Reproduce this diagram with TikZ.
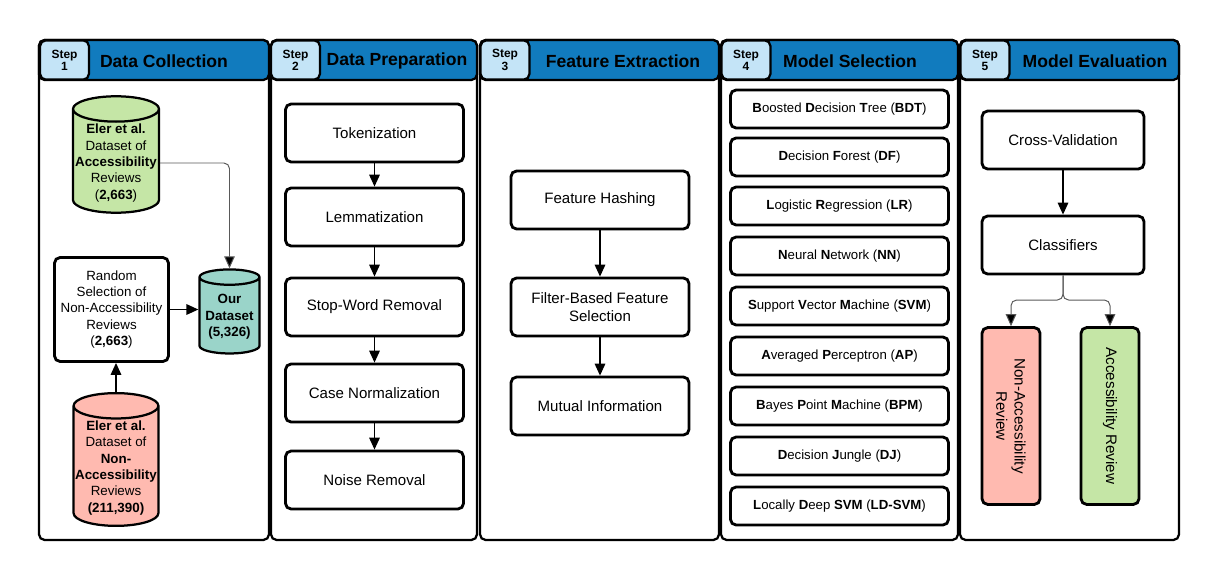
\documentclass[tikz,border=0pt]{standalone}
\usepackage{fontspec}
\setmainfont{Liberation Sans}
\usetikzlibrary{shapes.geometric,arrows.meta,positioning}
\definecolor{headblue}{HTML}{117BBE}
\definecolor{steplight}{HTML}{C4E4F7}
\definecolor{accgreen}{HTML}{C5E6A6}
\definecolor{nonaccred}{HTML}{FFBAB0}
\definecolor{ourteal}{HTML}{9AD4C9}

\begin{document}
\begin{tikzpicture}[x=0.025cm,y=-0.025cm,
		panelframe/.style={draw=black,line width=1.6pt,rounded corners=4pt},
		headband/.style={draw=black,fill=headblue,line width=1.6pt,rounded corners=4pt},
		stepbox/.style={draw=black,fill=steplight,line width=1.6pt,rounded corners=4pt,minimum width=1.22cm,minimum height=0.98cm,align=center,inner sep=0pt,font=\fontsize{8.5}{7.5}\selectfont\bfseries},
		headtitle/.style={inner sep=0pt,font=\fontsize{12.5}{15}\selectfont\bfseries},
		procbox/.style={draw=black,fill=white,line width=2pt,rounded corners=4pt,minimum width=4.45cm,minimum height=1.45cm,align=center,font=\fontsize{10.7}{12.8}\selectfont},
		modelbox/.style={draw=black,fill=white,line width=2pt,rounded corners=4pt,minimum width=5.45cm,minimum height=0.95cm,align=center,font=\fontsize{9.4}{11}\selectfont},
		dbcyl/.style={cylinder,shape border rotate=90,draw=black,line width=1.6pt,aspect=0.3,inner sep=1pt,align=center,font=\fontsize{9.5}{11.6}\selectfont},
		classbox/.style={draw=black,line width=2pt,rounded corners=4pt,rotate=-90,minimum width=4.42cm,minimum height=1.45cm,align=center,font=\fontsize{10.8}{13}\selectfont},
		arrowline/.style={draw=black,line width=1pt,-{Triangle[length=8.5pt,width=7.5pt]}},
		thinarrow/.style={draw=black!65,line width=0.7pt,rounded corners=4pt,-{Triangle[length=8.5pt,width=7.5pt,fill=black]}}]
	\useasboundingbox (0,0) rectangle (1220,580);
	\draw[panelframe] (39,40) rectangle (269,540);
	\draw[panelframe] (271,40) rectangle (477,540);
	\draw[panelframe] (480,40) rectangle (719,540);
	\draw[panelframe] (721,40) rectangle (958,540);
	\draw[panelframe] (960,40) rectangle (1179,540);
	\draw[headband] (39,40) rectangle (269,80);
	\draw[headband] (271,40) rectangle (477,80);
	\draw[headband] (480,40) rectangle (719,80);
	\draw[headband] (721,40) rectangle (958,80);
	\draw[headband] (960,40) rectangle (1179,80);
	\node[stepbox] (step1) at (64.5,60) {Step\\1};
	\node[stepbox] (step2) at (295.5,60) {Step\\2};
	\node[stepbox] (step3) at (505,60) {Step\\3};
	\node[stepbox] (step4) at (746,60) {Step\\4};
	\node[stepbox] (step5) at (985,60) {Step\\5};
	\node[headtitle] (title1) at (164,61) {Data Collection};
	\node[headtitle] (title2) at (397,61) {Data Preparation};
	\node[headtitle] (title3) at (623,61) {Feature Extraction};
	\node[headtitle] (title4) at (850,61) {Model Selection};
	\node[headtitle] (title5) at (1095,61) {Model Evaluation};

	\node[dbcyl,fill=accgreen,minimum width=2.15cm,minimum height=2.75cm] (accdata) at (116,163) {\textbf{Eler et al.}\\Dataset of\\\textbf{Accessibility}\\Reviews\\(\textbf{2,663})};
	\node[dbcyl,fill=ourteal,minimum width=1.5cm,minimum height=2.1cm] (ourdata) at (229.5,317) {\textbf{Our}\\\textbf{Dataset}\\\textbf{(5,326)}};
	\node[dbcyl,fill=nonaccred,minimum width=2.12cm,minimum height=3.15cm] (nonaccdata) at (116,468) {\textbf{Eler et al.}\\Dataset of\\\textbf{Non-}\\\textbf{Accessibility}\\Reviews\\\textbf{(211,390)}};
	\node[draw=black,fill=white,line width=2pt,rounded corners=4pt,minimum width=2.85cm,minimum height=2.6cm,align=center,font=\fontsize{9.5}{11.6}\selectfont] (randsel) at (111.5,309.5) {Random\\Selection of\\Non-Accessibility\\Reviews\\(\textbf{2,663})};

	\node[procbox] (tokenize) at (374.5,133) {Tokenization};
	\node[procbox] (lemma) at (374.5,217) {Lemmatization};
	\node[procbox] (stopword) at (374.5,307) {Stop-Word Removal};
	\node[procbox] (casenorm) at (374.5,393) {Case Normalization};
	\node[procbox] (noise) at (374.5,480) {Noise Removal};

	\node[procbox] (hashing) at (600,200) {Feature Hashing};
	\node[procbox] (filtersel) at (600,307) {Filter-Based Feature\\Selection};
	\node[procbox] (mutinfo) at (600,406) {Mutual Information};

	\node[modelbox] (bdt) at (839.5,109) {\textbf{B}oosted \textbf{D}ecision \textbf{T}ree (\textbf{BDT})};
	\node[modelbox] (df) at (839.5,157) {\textbf{D}ecision \textbf{F}orest (\textbf{DF})};
	\node[modelbox] (lr) at (839.5,206) {\textbf{L}ogistic \textbf{R}egression (\textbf{LR})};
	\node[modelbox] (nn) at (839.5,256) {\textbf{N}eural \textbf{N}etwork (\textbf{NN})};
	\node[modelbox] (svm) at (839.5,306) {\textbf{S}upport \textbf{V}ector \textbf{M}achine (\textbf{SVM})};
	\node[modelbox] (ap) at (839.5,356) {\textbf{A}veraged \textbf{P}erceptron (\textbf{AP})};
	\node[modelbox] (bpm) at (839.5,406) {\textbf{B}ayes \textbf{P}oint \textbf{M}achine (\textbf{BPM})};
	\node[modelbox] (dj) at (839.5,456) {\textbf{D}ecision \textbf{J}ungle (\textbf{DJ})};
	\node[modelbox] (ldsvm) at (839.5,506) {\textbf{L}ocally \textbf{D}eep \textbf{SVM} (\textbf{LD-SVM})};

	\node[procbox,minimum width=4.05cm] (crossval) at (1063,140) {Cross-Validation};
	\node[procbox,minimum width=4.05cm] (classif) at (1063,245) {Classifiers};
	\node[classbox,fill=nonaccred] (nonaccrev) at (1011,416) {Non-Accessibility\\Review};
	\node[classbox,fill=accgreen] (accrev) at (1110,416) {Accessibility Review};
	\coordinate (split) at (1063,300);

	\draw[thinarrow] (accdata.east) -| (ourdata.north);
	\draw[arrowline] (randsel.east) -- (randsel.east -| ourdata.west);
	\draw[arrowline] (nonaccdata.north) -- (nonaccdata.north |- randsel.south);
	\draw[arrowline] (tokenize) -- (lemma);
	\draw[arrowline] (lemma) -- (stopword);
	\draw[arrowline] (stopword) -- (casenorm);
	\draw[arrowline] (casenorm) -- (noise);
	\draw[arrowline] (hashing) -- (filtersel);
	\draw[arrowline] (filtersel) -- (mutinfo);
	\draw[arrowline] (crossval) -- (classif);
	\draw[thinarrow] (classif.south) -- (split) -| (nonaccrev.west);
	\draw[thinarrow] (classif.south) -- (split) -| (accrev.west);
\end{tikzpicture}
\end{document}
